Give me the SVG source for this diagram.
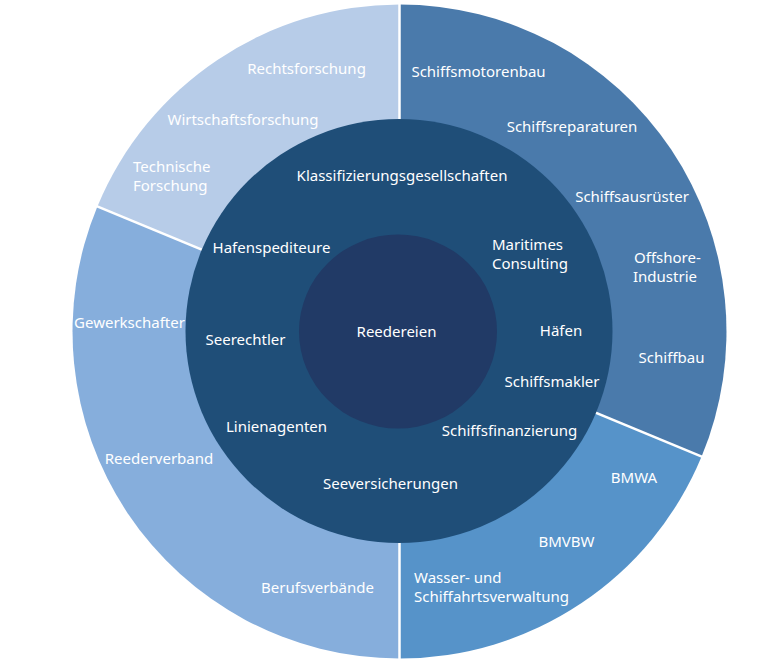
<svg xmlns="http://www.w3.org/2000/svg" width="765" height="670" viewBox="0 0 765 670">
<style>
text{font-family:"Noto Sans","Open Sans","DejaVu Sans",sans-serif;font-size:15px;fill:#ffffff}
.m{text-anchor:middle}
.div{stroke:#ffffff;stroke-width:2.5;fill:none}
</style>
<rect width="765" height="670" fill="#ffffff"/>
<g id="sector-industrie">
<path d="M399.5,331.5 L399.5,4.5 A327,327 0 0 1 701.6,456.6 Z" fill="#4a7aab"/>
<text class="m" x="478.5" y="77">Schiffsmotorenbau</text>
<text class="m" x="572" y="132">Schiffsreparaturen</text>
<text class="m" x="632" y="202">Schiffsausrüster</text>
<text x="634" y="263">Offshore-</text>
<text x="633" y="282">Industrie</text>
<text class="m" x="671.5" y="363">Schiffbau</text>
</g>
<g id="sector-behoerden">
<path d="M399.5,331.5 L701.6,456.6 A327,327 0 0 1 399.5,658.5 Z" fill="#5693c9"/>
<text class="m" x="634" y="483">BMWA</text>
<text class="m" x="566.5" y="547">BMVBW</text>
<text x="414" y="583">Wasser- und</text>
<text x="414" y="602">Schiffahrtsverwaltung</text>
</g>
<g id="sector-verbaende">
<path d="M399.5,331.5 L399.5,658.5 A327,327 0 0 1 97.4,206.4 Z" fill="#86aedc"/>
<text class="m" x="317.5" y="593">Berufsverbände</text>
<text class="m" x="159" y="464">Reederverband</text>
<text class="m" x="129.5" y="328">Gewerkschafter</text>
</g>
<g id="sector-forschung">
<path d="M399.5,331.5 L97.4,206.4 A327,327 0 0 1 399.5,4.5 Z" fill="#b7cce8"/>
<text class="m" x="306.5" y="74">Rechtsforschung</text>
<text class="m" x="243" y="125">Wirtschaftsforschung</text>
<text x="133" y="172">Technische</text>
<text x="133" y="191">Forschung</text>
</g>
<g id="connectors">
<line class="div" x1="399.5" y1="331.5" x2="399.5" y2="3"/>
<line class="div" x1="399.5" y1="331.5" x2="399.5" y2="660"/>
<line class="div" x1="399.5" y1="331.5" x2="703" y2="457.2"/>
<line class="div" x1="399.5" y1="331.5" x2="96" y2="205.8"/>
</g>
<g id="ring-dienstleister">
<ellipse cx="399" cy="331" rx="213.5" ry="212" fill="#1f4e78"/>
<text class="m" x="402" y="181">Klassifizierungsgesellschaften</text>
<text class="m" x="271.5" y="253">Hafenspediteure</text>
<text x="492" y="250">Maritimes</text>
<text x="492" y="269">Consulting</text>
<text class="m" x="245.5" y="345">Seerechtler</text>
<text class="m" x="561" y="336">Häfen</text>
<text class="m" x="552" y="387">Schiffsmakler</text>
<text class="m" x="276.5" y="432">Linienagenten</text>
<text class="m" x="509.5" y="436">Schiffsfinanzierung</text>
<text class="m" x="390.5" y="489">Seeversicherungen</text>
</g>
<g id="core-reedereien">
<ellipse cx="398" cy="331.5" rx="99" ry="97" fill="#213a66"/>
<text class="m" x="396.5" y="337">Reedereien</text>
</g>
</svg>
